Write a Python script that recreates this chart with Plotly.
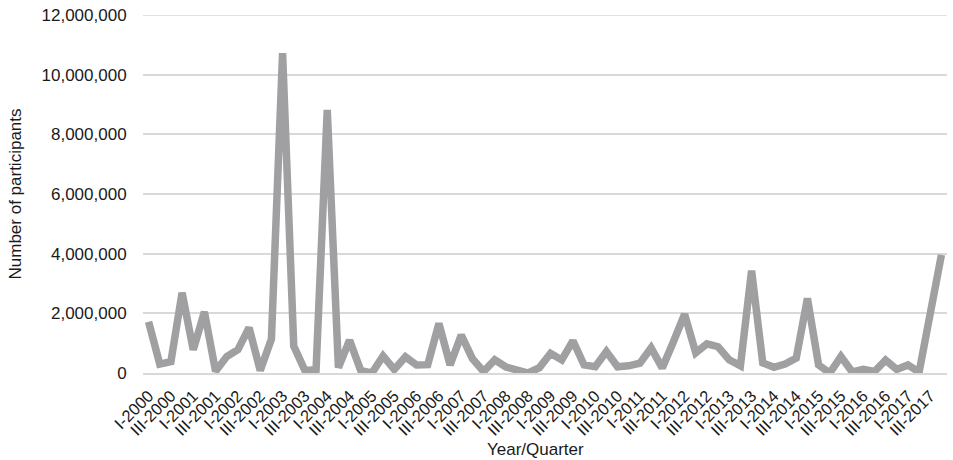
import plotly.graph_objects as go

years = list(range(2000, 2018))
quarters = ["I", "II", "III", "IV"]
categories = [f"{q}-{y}" for y in years for q in quarters]

participants_millions = [
    1.72, 0.30, 0.38, 2.69, 0.78, 2.05, 0.06, 0.55, 0.78, 1.52, 0.08, 1.14,
    10.72, 0.90, 0.08, 0.12, 8.82, 0.18, 1.10, 0.08, 0.00, 0.57, 0.12, 0.54,
    0.27, 0.28, 1.66, 0.27, 1.27, 0.48, 0.05, 0.44, 0.20, 0.07, 0.00, 0.18,
    0.66, 0.44, 1.08, 0.27, 0.21, 0.72, 0.21, 0.24, 0.33, 0.84, 0.17, 1.05,
    1.97, 0.68, 0.98, 0.88, 0.44, 0.24, 3.43, 0.34, 0.19, 0.30, 0.50, 2.50,
    0.27, 0.00, 0.55, 0.04, 0.12, 0.05, 0.43, 0.12, 0.27, 0.03, 1.98, 3.96,
]
participants = [v * 1e6 for v in participants_millions]

tick_labels = categories[::2]
y_ticks = [0, 2e6, 4e6, 6e6, 8e6, 10e6, 12e6]

font_family = "Liberation Sans, Arial, sans-serif"
text_color = "#1a1a1a"
grid_color = "#D9D9D9"

fig = go.Figure(
    go.Scatter(
        x=categories,
        y=participants,
        mode="lines",
        line=dict(color="#A0A0A2", width=7.5),
        hoverinfo="x+y",
        cliponaxis=False,
    )
)

fig.update_layout(
    width=953,
    height=460,
    margin=dict(l=143, r=6, t=15, b=87),
    paper_bgcolor="white",
    plot_bgcolor="white",
    showlegend=False,
    font=dict(family=font_family, size=17, color=text_color),
    annotations=[
        dict(
            text="Year/Quarter",
            xref="paper", yref="paper",
            x=0.4876, y=0,
            xanchor="center", yanchor="middle",
            yshift=-76,
            showarrow=False,
            font=dict(size=17, color=text_color),
        )
    ],
    shapes=[
        # top gridline (plotly skips a gridline that sits on the plot edge)
        dict(
            type="line", xref="paper", yref="y",
            x0=0, x1=1, y0=y_ticks[-1], y1=y_ticks[-1],
            line=dict(color=grid_color, width=1.5),
            layer="below",
        )
    ],
)

fig.update_xaxes(
    type="category",
    categoryorder="array",
    categoryarray=categories,
    range=[-0.5, len(categories) - 0.5],
    tickmode="array",
    tickvals=tick_labels,
    ticktext=tick_labels,
    tickangle=-45,
    tickfont=dict(size=16.5, color=text_color),
    showgrid=False,
    showline=True,
    linecolor=grid_color,
    linewidth=1.5,
    ticks="outside",
    ticklen=5,
    tickcolor="rgba(0,0,0,0)",
    automargin=False,
)

fig.update_yaxes(
    range=[0, 12e6],
    tickmode="array",
    tickvals=y_ticks,
    tickformat=",d",
    tickfont=dict(size=17, color=text_color),
    ticklabeloverflow="allow",
    showgrid=True,
    gridcolor=grid_color,
    gridwidth=1.5,
    zeroline=False,
    ticks="outside",
    ticklen=12,
    tickcolor="rgba(0,0,0,0)",
    title=dict(text="Number of participants", font=dict(size=17, color=text_color), standoff=15),
    automargin=False,
)

# remove the default 8px page margin so the figure fills the window exactly
fig.write_html(
    "out.html",
    config={"displayModeBar": False},
    post_script="document.body.style.margin='0';document.body.style.overflow='hidden';",
)
